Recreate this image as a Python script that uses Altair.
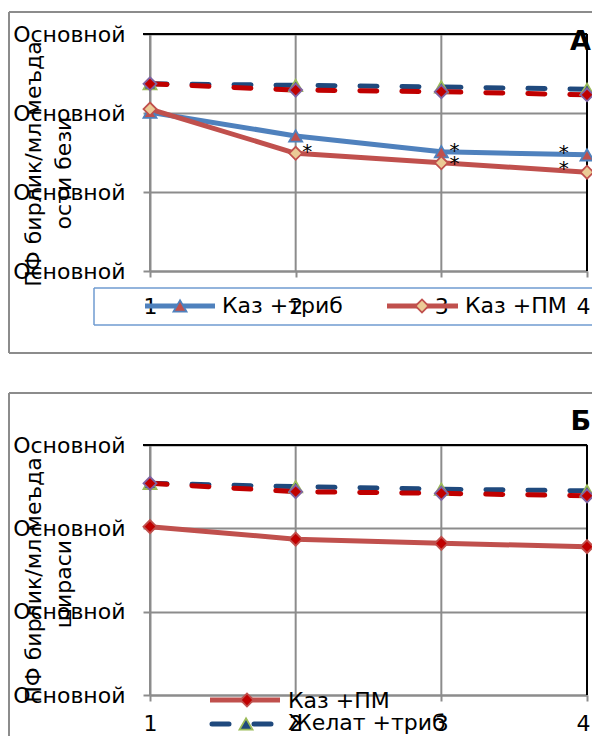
import altair as alt
import pandas as pd

FONT = "DejaVu Sans"

# ---------------- data ----------------
days = [1, 2, 3, 4]
y_ticks = [0, 1, 2, 3]
y_tick_text = "Основной"

# Panel А
a_kaz_trib = [2.01, 1.71, 1.51, 1.47]      # Каз +триб (solid blue)
a_kaz_pm = [2.05, 1.49, 1.37, 1.25]        # Каз +ПМ (solid red)
a_zhelat_trib = [2.37, 2.35, 2.33, 2.30]   # Желат +триб (dashed blue)
a_zhelat_pm = [2.37, 2.29, 2.27, 2.23]     # Желат +ПМ (dashed red)
a_star_x = [2.08, 3.09, 3.09, 3.84, 3.84]
a_star_y = [1.58, 1.60, 1.43, 1.57, 1.37]

# Panel Б
b_kaz_pm = [2.02, 1.87, 1.82, 1.78]
b_zhelat_trib = [2.54, 2.50, 2.47, 2.45]
b_zhelat_pm = [2.54, 2.44, 2.42, 2.39]

names = ["Каз +триб", "Каз +ПМ", "Желат +триб", "Желат +ПМ"]
a_title = ["ПФ бирлик/мл меъда", "ости бези"]
b_title = ["ПФ  бирлик/мл меъда", "шираси"]

# ---------------- layout / styles ----------------
W = 437          # plot width (x=1 .. x=4)
A_BOT = 237      # panel А: y range [A_BOT, 0]
B_TOP = 411      # panel Б: y range [B_BOT, B_TOP]
B_BOT = 661
H = B_BOT

GRID = "#8c8c8c"
BLUE = "#4F81BD"
RED = "#C0504D"
DBLUE = "#1F497D"
DRED = "#C00000"
GREEN = "#9BBB59"
PURPLE = "#8064A2"
TAN = "#EBCB96"
LEGEND_BOX = "#6F9BD1"
DASH = [17, 25]

one = pd.DataFrame({"k": [0]})

XS = alt.Scale(domain=[1, 4], nice=False, zero=False)
YS_A = alt.Scale(domain=[0, 3], nice=False, zero=False, range=[A_BOT, 0])
YS_B = alt.Scale(domain=[0, 3], nice=False, zero=False, range=[B_BOT, B_TOP])


def x_axis(label_pad, offset):
    return alt.Axis(orient="bottom", offset=offset, values=days, format="d", grid=False,
                    domainColor=GRID, domainWidth=2, tickColor=GRID, tickWidth=2,
                    tickSize=6, labelFont=FONT, labelFontSize=22, labelColor="black",
                    labelPadding=label_pad, labelFlush=False, labelOverlap=False,
                    labelOffset={"condition": {"test": "datum.value == 4", "value": -4},
                                 "value": 0},
                    title=None)


def y_axis():
    return alt.Axis(orient="left", values=y_ticks, labelExpr="'" + y_tick_text + "'",
                    grid=True, gridColor=GRID, gridWidth=2, domainColor=GRID,
                    domainWidth=2, tickColor=GRID, tickWidth=2, tickSize=7,
                    labelFont=FONT, labelFontSize=22, labelColor="black",
                    labelPadding=18, labelFlush=False, labelOverlap=False, title=None)


def series(ys, ysc, color, shape, fill, stroke, dashed, xax=None, yax=None):
    df = pd.DataFrame({"x": days, "y": ys})
    X = alt.X("x:Q", scale=XS, axis=xax)
    Y = alt.Y("y:Q", scale=ysc, axis=yax)
    Xn = alt.X("x:Q", scale=XS, axis=None)
    Yn = alt.Y("y:Q", scale=ysc, axis=None)
    kw = dict(color=color, strokeWidth=5, strokeCap="round", strokeJoin="round")
    if dashed:
        kw["strokeDash"] = DASH
    line = alt.Chart(df).mark_line(**kw).encode(x=X, y=Y)
    pts = alt.Chart(df).mark_point(shape=shape, filled=True, fill=fill, stroke=stroke,
                                   strokeWidth=1.8, size=170, opacity=1).encode(x=Xn, y=Yn)
    return line, pts


def vgrid(y0, y1):
    df = pd.DataFrame({"x": days})
    return alt.Chart(df).mark_rule(color=GRID, strokeWidth=2).encode(
        x=alt.X("x:Q", scale=XS, axis=None), y=alt.value(y0), y2=alt.value(y1))


def rule(x, y, x2=None, y2=None, color=GRID, width=2, dash=None):
    e = dict(x=alt.value(x), y=alt.value(y))
    if x2 is not None:
        e["x2"] = alt.value(x2)
    if y2 is not None:
        e["y2"] = alt.value(y2)
    kw = dict(color=color, strokeWidth=width)
    if dash is not None:
        kw["strokeDash"] = dash
        kw["strokeCap"] = "round"
    return alt.Chart(one).mark_rule(**kw).encode(**e)


def text(x, y, s, size=22, angle=0, align="left", bold=False, baseline="middle"):
    kw = dict(text=s, font=FONT, fontSize=size, color="black", align=align,
              baseline=baseline)
    if angle:
        kw["angle"] = angle
    if bold:
        kw["fontWeight"] = "bold"
    return alt.Chart(one).mark_text(**kw).encode(x=alt.value(x), y=alt.value(y))


def marker(x, y, shape, fill, stroke):
    return alt.Chart(one).mark_point(shape=shape, filled=True, fill=fill, stroke=stroke,
                                     strokeWidth=1.8, size=170, opacity=1).encode(
        x=alt.value(x), y=alt.value(y))


# ---------------- panel А ----------------
l1, p1 = series(a_kaz_trib, YS_A, BLUE, "triangle-up", RED, BLUE, False,
                xax=x_axis(19, A_BOT - H), yax=y_axis())
l2, p2 = series(a_kaz_pm, YS_A, RED, "diamond", TAN, RED, False)
l3, p3 = series(a_zhelat_trib, YS_A, DBLUE, "triangle-up", DBLUE, GREEN, True)
l4, p4 = series(a_zhelat_pm, YS_A, DRED, "diamond", DRED, PURPLE, True)

stars_a = alt.Chart(pd.DataFrame({"x": a_star_x, "y": a_star_y})).mark_text(
    text="*", font=FONT, fontSize=20, color="black", dy=6).encode(
    x=alt.X("x:Q", scale=XS, axis=None), y=alt.Y("y:Q", scale=YS_A, axis=None))

layers_a = [
    vgrid(0, A_BOT),
    # outer frame
    rule(-141, -22, y2=319), rule(-141, -22, x2=452), rule(-141, 319, x2=452),
    # plot top / right borders
    rule(-7, 0, x2=W, color="black"), rule(W, 0, y2=A_BOT, color="black"),
    l1, l2, l3, l4, p1, p2, p3, p4, stars_a,
    # legend box and entries
    rule(-56, 254, x2=452, color=LEGEND_BOX, width=1.5),
    rule(-56, 291, x2=452, color=LEGEND_BOX, width=1.5),
    rule(-56, 254, y2=291, color=LEGEND_BOX, width=1.5),
    rule(-5, 272, x2=65, color=BLUE, width=5),
    marker(30, 272, "triangle-up", RED, BLUE),
    text(72, 272, names[0]),
    rule(237, 272, x2=308, color=RED, width=5),
    marker(272, 272, "diamond", TAN, RED),
    text(315, 272, names[1]),
    # y title
    text(-116, 130, a_title[0], angle=270, align="center"),
    text(-86, 139, a_title[1], angle=270, align="center"),
    text(441, 16, "А", size=27, bold=True, align="right", baseline="alphabetic"),
]

# ---------------- panel Б ----------------
m1, q1 = series(b_kaz_pm, YS_B, RED, "diamond", DRED, RED, False,
                xax=x_axis(12, 0), yax=y_axis())
m2, q2 = series(b_zhelat_trib, YS_B, DBLUE, "triangle-up", DBLUE, GREEN, True)
m3, q3 = series(b_zhelat_pm, YS_B, DRED, "diamond", DRED, PURPLE, True)

layers_b = [
    vgrid(B_TOP, B_BOT),
    rule(-141, B_TOP - 52, y2=B_TOP + 320), rule(-141, B_TOP - 52, x2=452),
    rule(-7, B_TOP, x2=W, color="black"), rule(W, B_TOP, y2=B_BOT, color="black"),
    m1, m2, m3, q1, q2, q3,
    rule(60, B_TOP + 255, x2=130, color=RED, width=5),
    marker(97, B_TOP + 255, "diamond", DRED, RED),
    text(138, B_TOP + 256, names[1]),
    rule(62, B_TOP + 279, x2=130, color=DBLUE, width=5, dash=DASH),
    marker(96, B_TOP + 279, "triangle-up", DBLUE, GREEN),
    text(138, B_TOP + 278, names[2]),
    text(-116, B_TOP + 135, b_title[0], angle=270, align="center"),
    text(-86, B_TOP + 139, b_title[1], angle=270, align="center"),
    text(441, B_TOP - 15, "Б", size=27, bold=True, align="right", baseline="alphabetic"),
]

chart = alt.layer(*(layers_a + layers_b)).resolve_scale(
    x="independent", y="independent"
).resolve_axis(
    x="independent", y="independent"
).properties(
    width=W, height=H,
    autosize=alt.AutoSizeParams(type="none"),
    padding={"left": 142, "top": 26, "right": 5, "bottom": 41},
    background="white",
).configure_view(stroke=None)

chart.save("out.html", embed_options={"renderer": "svg", "actions": False})
